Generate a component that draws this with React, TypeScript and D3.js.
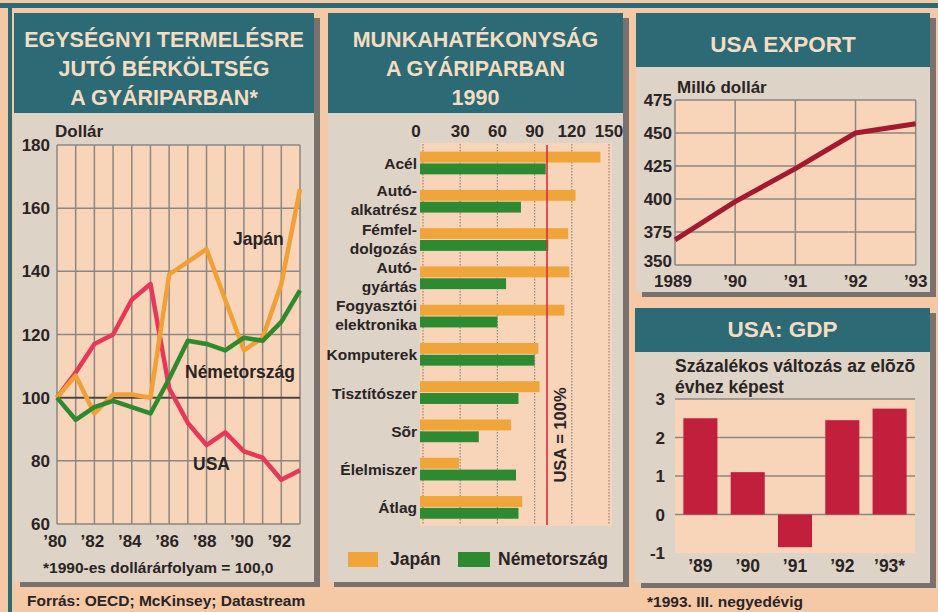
import React, { useEffect, useRef } from 'react';
import * as d3 from 'd3';

// Egységnyi termelésre jutó bérköltség (1990 = 100)
const costYears = [1980, 1981, 1982, 1983, 1984, 1985, 1986, 1987, 1988, 1989, 1990, 1991, 1992, 1993];
const usaCost = [100, 108, 117, 120, 131, 136, 103, 92, 85, 89, 83, 81, 74, 77];
const japanCost = [100, 107, 95, 101, 101, 100, 139, 143, 147, 131, 115, 119, 136, 166];
const germanyCost = [100, 93, 97, 99, 97, 95, 106, 118, 117, 115, 119, 118, 124, 134];
const costTicks = [60, 80, 100, 120, 140, 160, 180];
const costYearTicks = [1980, 1982, 1984, 1986, 1988, 1990, 1992];

// Munkahatékonyság, USA = 100%
const industries = [
    ['Acél'],
    ['Autó-', 'alkatrész'],
    ['Fémfel-', 'dolgozás'],
    ['Autó-', 'gyártás'],
    ['Fogyasztói', 'elektronika'],
    ['Komputerek'],
    ['Tisztítószer'],
    ['Sõr'],
    ['Élelmiszer'],
    ['Átlag'],
];
const japanProd = [143, 123, 117, 118, 114, 93, 94, 71, 29, 80];
const germanyProd = [99, 79, 101, 67, 60, 90, 77, 45, 75, 77];
const prodTicks = [0, 30, 60, 90, 120, 150];

// USA export, millió dollár
const exportYears = ['1989', '’90', '’91', '’92', '’93'];
const exportValues = [369, 398, 423, 450, 457];
const exportTicks = [350, 375, 400, 425, 450, 475];

// USA GDP, százalékos változás
const gdpYears = ['’89', '’90', '’91', '’92', '’93*'];
const gdpValues = [2.5, 1.1, -0.85, 2.45, 2.75];
const gdpTicks = [-1, 0, 1, 2, 3];

const FONT = '"Liberation Sans", Arial, Helvetica, sans-serif';
const PAGE = '#f5c8a6';
const BODY = '#ddd3c6';
const PLOT = '#f8d4b9';
const TEAL = '#2c6b76';
const CREAM = '#f4ddc2';
const INK = '#2a2424';
const GRID = '#8c8783';
const SHADOW = '#78716d';

const App = () => {
    const svgRef = useRef<SVGSVGElement | null>(null);

    useEffect(() => {
        if (!svgRef.current) return;
        const svg = d3.select(svgRef.current);
        svg.selectAll('*').remove();

        svg.append('rect').attr('width', 938).attr('height', 612).attr('fill', PAGE);
        // top rule and left bar
        svg.append('rect').attr('x', 0).attr('y', 3).attr('width', 938).attr('height', 5).attr('fill', TEAL);
        svg.append('rect').attr('x', 8).attr('y', 3).attr('width', 4).attr('height', 609).attr('fill', TEAL);

        const txt = (x: number, y: number, s: string, opts: any = {}) =>
            svg.append('text')
                .attr('x', x)
                .attr('y', y)
                .attr('text-anchor', opts.anchor || 'start')
                .attr('font-family', FONT)
                .attr('font-weight', 'bold')
                .attr('font-size', opts.size || 17)
                .attr('fill', opts.fill || INK)
                .text(s);

        const panel = (x: number, y: number, w: number, h: number, headH: number,
                       lines: string[], baselines: number[], size: number) => {
            svg.append('rect').attr('x', x + 6).attr('y', y + 5).attr('width', w).attr('height', h).attr('fill', SHADOW);
            svg.append('rect').attr('x', x).attr('y', y).attr('width', w).attr('height', h).attr('fill', BODY);
            svg.append('rect').attr('x', x).attr('y', y).attr('width', w).attr('height', headH).attr('fill', TEAL);
            lines.forEach((l, i) => txt(x + w / 2, baselines[i], l, { anchor: 'middle', size, fill: CREAM }));
        };

        panel(14, 13, 300, 569, 100, ['EGYSÉGNYI TERMELÉSRE', 'JUTÓ BÉRKÖLTSÉG', 'A GYÁRIPARBAN*'], [47, 76, 105], 21.5);
        panel(328, 13, 295, 569, 100, ['MUNKAHATÉKONYSÁG', 'A GYÁRIPARBAN', '1990'], [47, 76, 105], 21.5);
        panel(636, 13, 294, 279, 54, ['USA EXPORT'], [52], 22.5);
        panel(635, 308, 295, 275, 44, ['USA: GDP'], [337], 22.5);

        // ---- Panel 1: line chart
        const x1 = d3.scaleLinear().domain([1980, 1993]).range([57, 300]);
        const y1 = d3.scaleLinear().domain([60, 180]).range([524, 145]);
        const g1 = svg.append('g');
        g1.append('rect').attr('x', x1(1980)).attr('y', y1(180))
            .attr('width', x1(1993) - x1(1980)).attr('height', y1(60) - y1(180)).attr('fill', PLOT);
        g1.selectAll('.vg').data(costYears).enter().append('line')
            .attr('x1', d => x1(d)).attr('x2', d => x1(d))
            .attr('y1', y1(180)).attr('y2', y1(60))
            .attr('stroke', GRID).attr('stroke-width', 1.5);
        g1.selectAll('.hg').data(costTicks).enter().append('line')
            .attr('x1', x1(1980)).attr('x2', x1(1993))
            .attr('y1', d => y1(d)).attr('y2', d => y1(d))
            .attr('stroke', d => d === 100 ? '#4a4543' : GRID)
            .attr('stroke-width', d => d === 100 ? 2 : 1.5);
        costTicks.forEach(t => txt(50, y1(t) + 6, String(t), { anchor: 'end' }));
        costYearTicks.forEach(t => txt(x1(t) - 2, 547, '’' + String(t).slice(2), { anchor: 'middle' }));
        txt(55, 137, 'Dollár');

        const line1 = d3.line<number>()
            .x((d, i) => x1(costYears[i]))
            .y(d => y1(d));
        const series = [
            { values: usaCost, color: '#e6395a' },
            { values: japanCost, color: '#f1a035' },
            { values: germanyCost, color: '#2f8a2e' },
        ];
        series.forEach(s => {
            g1.append('path').datum(s.values)
                .attr('fill', 'none')
                .attr('stroke', s.color)
                .attr('stroke-width', 4.5)
                .attr('stroke-linejoin', 'round')
                .attr('d', line1);
        });
        txt(233, 245, 'Japán', { size: 17.5 });
        txt(185, 378, 'Németország', { size: 17.5 });
        txt(193, 470, 'USA', { size: 17.5 });
        txt(43, 573, '*1990-es dollárárfolyam = 100,0', { size: 15.5 });
        txt(27, 606, 'Forrás: OECD; McKinsey; Datastream', { size: 15.5 });

        // ---- Panel 2: bar chart
        const x2 = d3.scaleLinear().domain([0, 150]).range([423, 609]);
        const y2 = d3.scaleBand<number>().domain(industries.map((d, i) => i))
            .range([144, 526.4]).paddingInner(0.407).paddingOuter(0.2);
        const sub = d3.scaleBand<string>().domain(['jp', 'de']).range([0, y2.bandwidth()]).paddingInner(0.08);
        const g2 = svg.append('g');
        g2.append('rect').attr('x', 420).attr('y', 143).attr('width', 192).attr('height', 383).attr('fill', PLOT);
        g2.selectAll('.vg').data(prodTicks).enter().append('line')
            .attr('x1', d => x2(d)).attr('x2', d => x2(d))
            .attr('y1', 144).attr('y2', 525)
            .attr('stroke', GRID).attr('stroke-width', 1.2)
            .attr('stroke-dasharray', '1.5,1.5');
        prodTicks.forEach(t => txt(t === 0 ? x2(t) - 7 : x2(t), 137, String(t), { anchor: 'middle' }));

        g2.selectAll('.jp').data(japanProd).enter().append('rect')
            .attr('x', x2(0) - 3)
            .attr('y', (d, i) => (y2(i) as number) + (sub('jp') as number))
            .attr('width', d => x2(d) - x2(0) + 3)
            .attr('height', sub.bandwidth())
            .attr('fill', '#f0a53a');
        g2.selectAll('.de').data(germanyProd).enter().append('rect')
            .attr('x', x2(0) - 3)
            .attr('y', (d, i) => (y2(i) as number) + (sub('de') as number))
            .attr('width', d => x2(d) - x2(0) + 3)
            .attr('height', sub.bandwidth())
            .attr('fill', '#2e8a30');
        g2.append('line')
            .attr('x1', x2(100)).attr('x2', x2(100))
            .attr('y1', 145).attr('y2', 525)
            .attr('stroke', '#d82d40').attr('stroke-width', 1.6);

        industries.forEach((lines, i) => {
            const c = (y2(i) as number) + y2.bandwidth() / 2;
            if (lines.length === 1) {
                txt(417, c + 6, lines[0], { anchor: 'end', size: 15.5 });
            } else {
                txt(417, c - 5, lines[0], { anchor: 'end', size: 15.5 });
                txt(417, c + 14, lines[1], { anchor: 'end', size: 15.5 });
            }
        });
        svg.append('text')
            .attr('transform', `translate(566,435) rotate(-90)`)
            .attr('text-anchor', 'middle')
            .attr('font-family', FONT)
            .attr('font-weight', 'bold')
            .attr('font-size', 16.5)
            .attr('fill', INK)
            .text('USA = 100%');

        // legend
        svg.append('rect').attr('x', 348).attr('y', 552).attr('width', 30).attr('height', 15).attr('fill', '#f0a53a');
        txt(390, 565, 'Japán', { size: 17.5 });
        svg.append('rect').attr('x', 458).attr('y', 552).attr('width', 32).attr('height', 15).attr('fill', '#2e8a30');
        txt(498, 565, 'Németország', { size: 17.5 });

        // ---- Panel 3: USA export
        const x3 = d3.scalePoint<string>().domain(exportYears).range([675, 915.7]);
        const y3 = d3.scaleLinear().domain([350, 475]).range([265, 100]);
        const g3 = svg.append('g');
        g3.append('rect').attr('x', 675).attr('y', 100).attr('width', 240.7).attr('height', 165).attr('fill', PLOT);
        g3.selectAll('.vg').data(exportYears).enter().append('line')
            .attr('x1', d => x3(d) as number).attr('x2', d => x3(d) as number)
            .attr('y1', 100).attr('y2', 265)
            .attr('stroke', GRID).attr('stroke-width', 1.5);
        g3.selectAll('.hg').data(exportTicks).enter().append('line')
            .attr('x1', 675).attr('x2', 915.7)
            .attr('y1', d => y3(d)).attr('y2', d => y3(d))
            .attr('stroke', GRID).attr('stroke-width', 1.5);
        exportTicks.forEach(t => txt(672, t === 350 ? y3(t) + 2 : y3(t) + 6, String(t), { anchor: 'end' }));
        exportYears.forEach((t, i) => txt((x3(t) as number) + (i === 0 ? -2 : 0), 287, t, { anchor: 'middle' }));
        txt(677, 93, 'Milló dollár');
        g3.append('path').datum(exportValues)
            .attr('fill', 'none')
            .attr('stroke', '#a3192f')
            .attr('stroke-width', 5)
            .attr('stroke-linejoin', 'round')
            .attr('d', d3.line<number>().x((d, i) => x3(exportYears[i]) as number).y(d => y3(d)));

        // ---- Panel 4: USA GDP
        const x4 = d3.scaleBand<string>().domain(gdpYears).range([675, 915]).paddingInner(0.28).paddingOuter(0.177);
        const y4 = d3.scaleLinear().domain([-1, 3]).range([553, 399]);
        const g4 = svg.append('g');
        g4.append('rect').attr('x', 675).attr('y', 399).attr('width', 240).attr('height', 154).attr('fill', PLOT);
        g4.selectAll('.hg').data(gdpTicks.filter(t => t > -1)).enter().append('line')
            .attr('x1', 675).attr('x2', 915)
            .attr('y1', d => y4(d)).attr('y2', d => y4(d))
            .attr('stroke', GRID).attr('stroke-width', 1.5);
        g4.selectAll('.bar').data(gdpValues).enter().append('rect')
            .attr('x', (d, i) => x4(gdpYears[i]) as number)
            .attr('y', d => y4(Math.max(0, d)))
            .attr('width', x4.bandwidth())
            .attr('height', d => Math.abs(y4(d) - y4(0)))
            .attr('fill', '#c21f3d');
        gdpTicks.forEach(t => txt(665, y4(t) + 6, String(t), { anchor: 'end' }));
        gdpYears.forEach(t => txt((x4(t) as number) + x4.bandwidth() / 2, 572, t, { anchor: 'middle', size: 17.5 }));
        txt(675, 372, 'Százalékos változás az elõzõ', { size: 17.5 });
        txt(675, 393, 'évhez képest', { size: 17.5 });
        txt(647, 607, '*1993. III. negyedévig', { size: 15.5 });
    }, []);

    return (
        <svg ref={svgRef} width={938} height={612}
             style={{ position: 'absolute', left: 0, top: 0, display: 'block' }} />
    );
};

export default App;
